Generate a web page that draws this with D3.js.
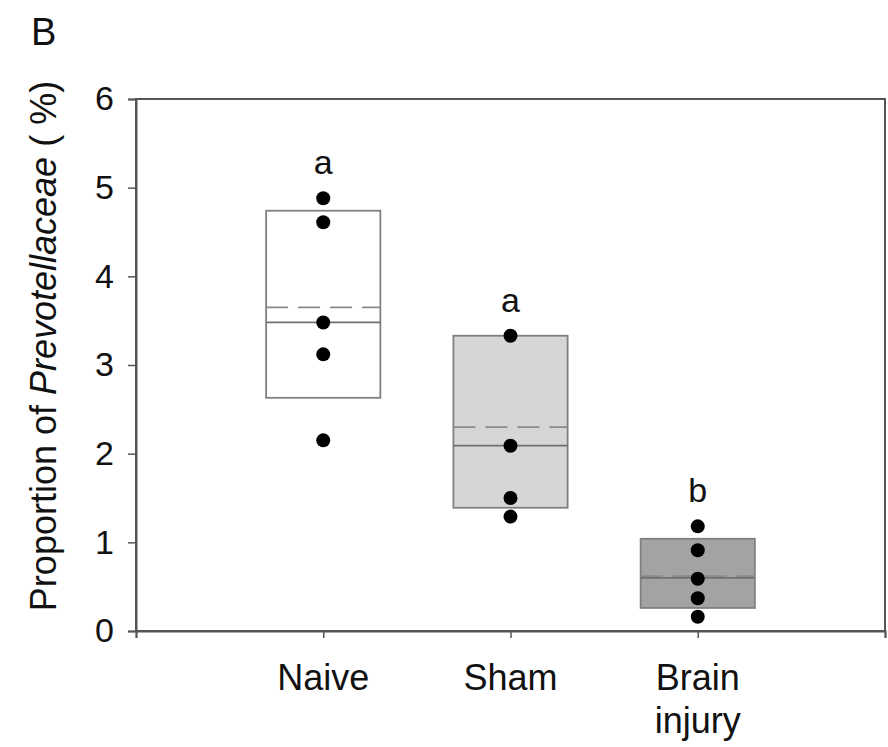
<!DOCTYPE html>
<html><head><meta charset="utf-8">
<script src="https://cdn.jsdelivr.net/npm/d3@7"></script>
<style>body{margin:0;background:#fff}svg{display:block}text{font-family:"Liberation Sans",Arial,sans-serif;fill:#111}</style>
</head><body><svg id="c" width="888" height="747"></svg>
<script>
const categories = ["Naive","Sham","Brain injury"];
const points = [
  [4.88, 4.61, 3.48, 3.12, 2.15],
  [3.33, 2.09, 1.50, 1.29],
  [1.18, 0.91, 0.59, 0.37, 0.16]
];
const q1 = [2.63, 1.39, 0.26];
const q3 = [4.74, 3.33, 1.04];
const medians = [3.48, 2.09, 0.60];
const means = [3.65, 2.30, 0.62];
const letters = ["a","a","b"];
const fills = ["#ffffff","#d6d6d6","#a3a3a3"];
const yTicks = [0,1,2,3,4,5,6];

const svg = d3.select("#c");
const L=136, R=885, T=99, B=631;
const x = d3.scaleLinear().domain([0,4]).range([L,R]);
const y = d3.scaleLinear().domain([0,6]).range([B,T]);
const bw = x(0.61)-x(0);

svg.append("rect").attr("x",L).attr("y",T).attr("width",R-L).attr("height",B-T)
  .attr("fill","none").attr("stroke","#555").attr("stroke-width",2);

const ya = svg.append("g").attr("transform",`translate(${L},0)`)
  .call(d3.axisLeft(y).tickValues(yTicks).tickSize(8).tickPadding(14).tickFormat(d3.format("d")));
ya.select(".domain").attr("stroke","#555").attr("stroke-width",2);
ya.selectAll(".tick line").attr("stroke","#555").attr("stroke-width",1.5);
ya.selectAll(".tick text").style("font-size","34px").style("font-family","Liberation Sans, Arial, sans-serif").attr("fill","#111");

const xa = svg.append("g").attr("transform",`translate(0,${B})`)
  .call(d3.axisBottom(x).tickValues([0,1,2,3,4]).tickSize(7).tickFormat(""));
xa.select(".domain").attr("stroke","#555").attr("stroke-width",2);
xa.selectAll(".tick line").attr("stroke","#555").attr("stroke-width",1.5);

categories.forEach((c,i)=>{
  const cx = x(i+1);
  const g = svg.append("g");
  g.append("rect").attr("x",cx-bw/2).attr("y",y(q3[i])).attr("width",bw).attr("height",y(q1[i])-y(q3[i]))
    .attr("fill",fills[i]).attr("stroke","#808080").attr("stroke-width",1.8);
  g.append("line").attr("x1",cx-bw/2).attr("x2",cx+bw/2).attr("y1",y(medians[i])).attr("y2",y(medians[i]))
    .attr("stroke","#707070").attr("stroke-width",1.8);
  g.append("line").attr("x1",cx-bw/2).attr("x2",cx+bw/2).attr("y1",y(means[i])).attr("y2",y(means[i]))
    .attr("stroke","#8a8a8a").attr("stroke-width",1.8).attr("stroke-dasharray","22,10");
  g.selectAll("circle").data(points[i]).join("circle")
    .attr("cx",cx).attr("cy",d=>y(d)).attr("r",7).attr("fill","#000");
  svg.append("text").attr("x",cx).attr("y",y(d3.max(points[i]))-24).attr("text-anchor","middle")
    .style("font-size","34px").text(letters[i]);
  const words = c.split(" ");
  words.forEach((w,k)=>{
    svg.append("text").attr("x",cx).attr("y",690+k*43).attr("text-anchor","middle")
      .style("font-size","36px").text(w);
  });
});

const yl = svg.append("text").attr("transform","translate(56,346) rotate(-90)").attr("text-anchor","middle")
  .style("font-size","36px");
yl.append("tspan").text("Proportion of ");
yl.append("tspan").style("font-style","italic").text("Prevotellaceae");
yl.append("tspan").text(" ( %)");

svg.append("text").attr("x",31).attr("y",45).style("font-size","38px").text("B");
</script></body></html>
